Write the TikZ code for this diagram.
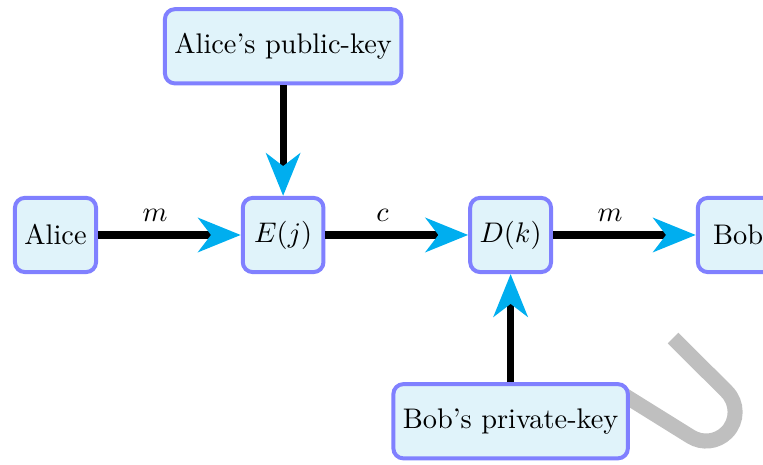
\documentclass[tikz,border=0pt]{standalone}
\usepackage{tikz}
\usetikzlibrary{arrows.meta,positioning}
\definecolor{boxfill}{RGB}{224,243,250}
\definecolor{tipblue}{RGB}{0,174,239}
\tikzset
{
	cryptbox/.style = {rectangle, rounded corners=3.5pt, draw=blue!50, fill=boxfill, line width=1.4pt, align=center, minimum width=1cm, minimum height=0.92cm},
	flow/.style     = {-{Stealth[length=15pt, width=12pt, inset=4.5pt, color=tipblue]}, line width=2.5pt},
	hook/.style     = {line width=5.3pt, draw=black!25}
}

\begin{document}
\begin{tikzpicture}
\useasboundingbox (0,0) rectangle (9.459,-5.753);
\draw[hook] (8.344,-4.19) -- (9.008,-4.853) arc[start angle=45, end angle=-122, radius=0.36] -- (7.711,-4.883);
\node[cryptbox] (alice) at (0.688,-2.913) {Alice};
\node[cryptbox, right=1.77cm of alice] (enc) {$E(j)$};
\node[cryptbox, right=1.77cm of enc] (dec) {$D(k)$};
\node[cryptbox, right=1.77cm of dec] (bob) {Bob};
\node[cryptbox, above=1.37cm of enc] (pubkey) {Alice's public-key};
\node[cryptbox, below=1.34cm of dec] (privkey) {Bob's private-key};
\draw[flow] (alice) -- node[pos=0.4, above]{$m$} (enc);
\draw[flow] (enc) -- node[pos=0.4, above]{$c$} (dec);
\draw[flow] (dec) -- node[pos=0.4, above]{$m$} (bob);
\draw[flow] (pubkey) -- (enc);
\draw[flow] (privkey) -- (dec);
\end{tikzpicture}
\end{document}
